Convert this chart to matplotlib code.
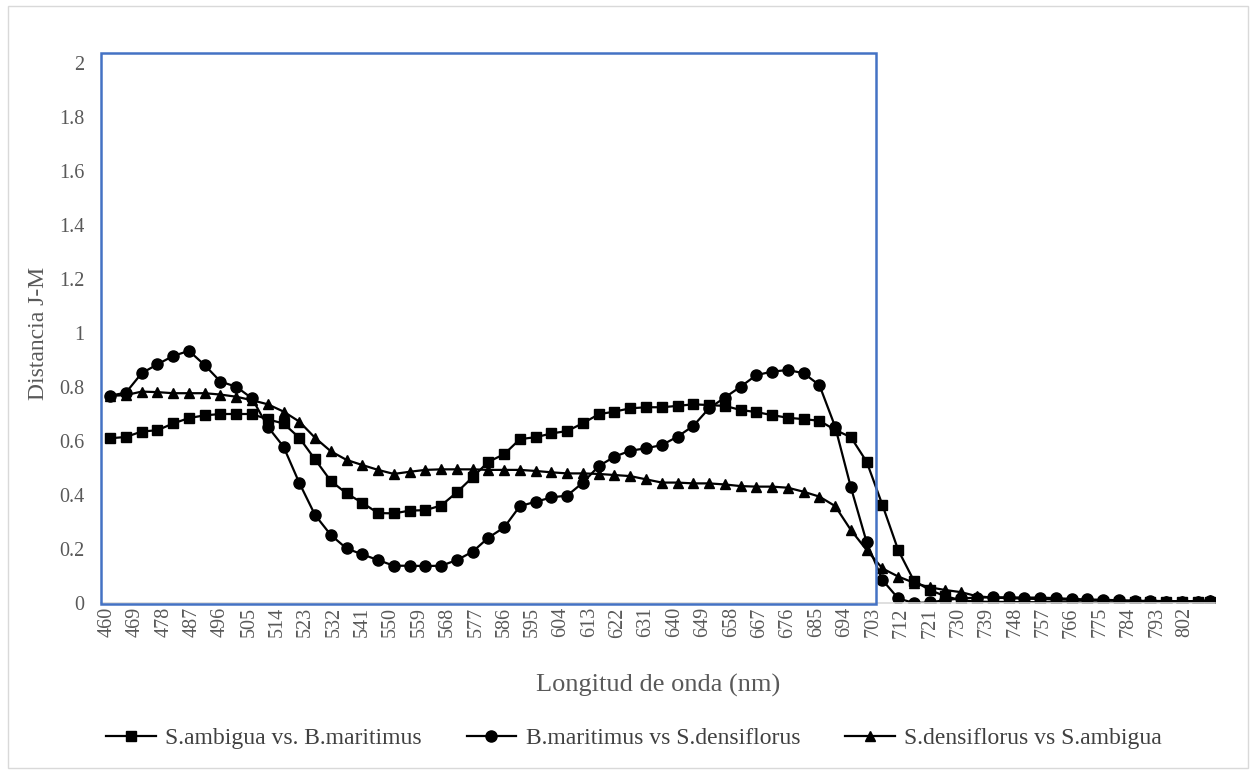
import matplotlib.pyplot as plt
from matplotlib.patches import Rectangle

# longitudes de onda (nm) de cada banda
longitud = [461, 466, 471, 476, 481, 486, 491, 496, 501, 506,
            511, 516, 521, 526, 531, 536, 541, 546, 551, 556,
            561, 566, 571, 576, 581, 586, 591, 596, 601, 606,
            611, 616, 621, 626, 631, 636, 641, 646, 651, 656,
            661, 666, 671, 676, 681, 686, 691, 696, 701, 706,
            711, 716, 721, 726, 731, 736, 741, 746, 751, 756,
            761, 766, 771, 776, 781, 786, 791, 796, 801, 806, 810]

# distancia Jeffries-Matusita por par de especies
amb_mar = [0.610, 0.615, 0.635, 0.640, 0.665, 0.685, 0.695, 0.700, 0.700, 0.700,
           0.680, 0.665, 0.612, 0.532, 0.452, 0.406, 0.371, 0.333, 0.332, 0.342,
           0.344, 0.361, 0.410, 0.466, 0.523, 0.551, 0.607, 0.614, 0.628, 0.637,
           0.666, 0.699, 0.709, 0.721, 0.725, 0.725, 0.730, 0.736, 0.733, 0.730,
           0.715, 0.707, 0.696, 0.686, 0.681, 0.675, 0.641, 0.614, 0.523, 0.363,
           0.196, 0.082, 0.048, 0.025, 0.010, 0.005, 0.004, 0.004, 0.003, 0.003,
           0.003, 0.003, 0.002, 0.002, 0.002, 0.002, 0.002, 0.002, 0.002, 0.002, 0.002]

mar_den = [0.768, 0.779, 0.851, 0.884, 0.915, 0.934, 0.881, 0.820, 0.801, 0.758,
           0.653, 0.579, 0.445, 0.326, 0.252, 0.202, 0.180, 0.159, 0.138, 0.138,
           0.137, 0.138, 0.159, 0.190, 0.242, 0.280, 0.359, 0.375, 0.391, 0.398,
           0.446, 0.507, 0.542, 0.564, 0.573, 0.585, 0.616, 0.656, 0.721, 0.761,
           0.801, 0.844, 0.857, 0.863, 0.851, 0.807, 0.653, 0.428, 0.225, 0.085,
           0.017, 0.000, 0.002, 0.011, 0.017, 0.020, 0.021, 0.021, 0.020, 0.020,
           0.018, 0.015, 0.013, 0.012, 0.010, 0.008, 0.006, 0.005, 0.005, 0.005, 0.006]

den_amb = [0.767, 0.770, 0.783, 0.781, 0.777, 0.777, 0.777, 0.772, 0.764, 0.751,
           0.736, 0.709, 0.672, 0.612, 0.562, 0.530, 0.511, 0.493, 0.478, 0.486,
           0.493, 0.495, 0.495, 0.495, 0.493, 0.493, 0.493, 0.489, 0.484, 0.480,
           0.480, 0.478, 0.474, 0.470, 0.458, 0.446, 0.446, 0.443, 0.443, 0.439,
           0.433, 0.431, 0.431, 0.427, 0.412, 0.394, 0.359, 0.270, 0.196, 0.128,
           0.098, 0.075, 0.058, 0.048, 0.040, 0.025, 0.020, 0.018, 0.016, 0.015,
           0.013, 0.012, 0.011, 0.010, 0.009, 0.008, 0.008, 0.007, 0.007, 0.007, 0.010]

etiquetas_x = list(range(460, 803, 9))
etiquetas_y = [0, 0.2, 0.4, 0.6, 0.8, 1, 1.2, 1.4, 1.6, 1.8, 2]

plt.rcParams['font.family'] = ['Liberation Serif', 'DejaVu Serif']

fig = plt.figure(figsize=(12.53, 7.74), dpi=100)
W, H = 1253, 774
ax = fig.add_axes([101 / W, 1 - 603 / H, (1215 - 101) / W, (603 - 63) / H])

ax.plot(longitud, amb_mar, color='black', lw=1.6, marker='s', ms=6.5,
        label='S.ambigua vs. B.maritimus')
ax.plot(longitud, mar_den, color='black', lw=1.6, marker='o', ms=8,
        label='B.maritimus vs S.densiflorus')
ax.plot(longitud, den_amb, color='black', lw=1.6, marker='^', ms=7.5,
        label='S.densiflorus vs S.ambigua')

ax.set_xlim(458.1, 811.5)
ax.set_ylim(0, 2)
ax.set_xticks(etiquetas_x)
ax.set_xticklabels([str(v) for v in etiquetas_x], rotation=90)
ax.set_yticks(etiquetas_y)
ax.set_yticklabels(['%g' % v for v in etiquetas_y])
ax.tick_params(length=0, labelsize=14.5, colors='#595959')
ax.tick_params(axis='y', pad=12)
ax.tick_params(axis='x', pad=3)

for lado in ['top', 'right', 'left']:
    ax.spines[lado].set_visible(False)
ax.spines['bottom'].set_color('#d9d9d9')
ax.spines['bottom'].set_linewidth(1.2)

ax.set_xlabel('Longitud de onda (nm)', fontsize=19, color='#595959', labelpad=26)
ax.set_ylabel('Distancia J-M', fontsize=17, color='#595959', labelpad=7)

# recuadro azul de la region visible
caja = Rectangle((458.1, -0.003), 704 - 458.1, 2.04, fill=False,
                 edgecolor='#4472c4', lw=1.8, clip_on=False, zorder=5)
ax.add_patch(caja)

fig.legend(loc='center', bbox_to_anchor=(634 / W, 1 - 738 / H), ncol=3,
           frameon=False, fontsize=17, handlelength=2.1, handletextpad=0.4,
           columnspacing=1.9, labelcolor='#404040')

# borde del grafico
fig.patches.append(Rectangle((8 / W, 6 / H), (1248 - 8) / W, (768 - 6) / H,
                             transform=fig.transFigure, fill=False,
                             edgecolor='#d9d9d9', lw=1))

fig.savefig('out.png', dpi=100)
